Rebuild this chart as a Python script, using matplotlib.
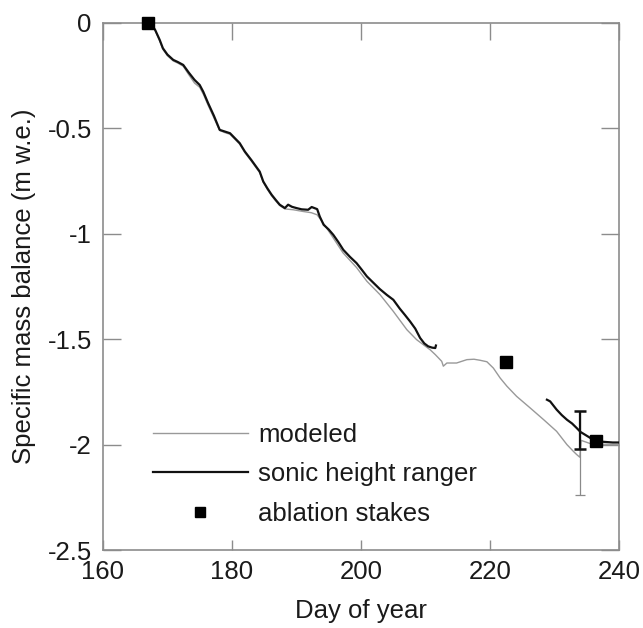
import matplotlib
matplotlib.use("Agg")
import matplotlib.pyplot as plt

plt.rcParams['font.family'] = ['Liberation Sans', 'DejaVu Sans']

# ---- data ----
sonic1_day = [167.0, 167.6, 168.1, 168.8, 169.3, 170.0, 170.9, 171.6, 172.45, 173.3, 174.2, 175.0,
              175.55, 176.3, 177.2, 178.1, 178.9, 179.7, 180.4, 181.2, 182.0, 183.0, 184.3, 184.85,
              185.5, 186.15, 186.8, 187.4, 188.2, 188.7, 189.3, 190.0, 190.8, 191.8, 192.35, 193.2,
              193.6, 194.2, 195.0, 195.7, 196.5, 197.25, 198.3, 199.3, 200.1, 200.9, 202.0, 202.9,
              204.0, 205.0, 206.0, 206.8, 207.6, 208.4, 209.15, 209.8, 210.4, 211.0, 211.5, 211.6]
sonic1_mb = [0.0, -0.01, -0.033, -0.08, -0.12, -0.15, -0.175, -0.185, -0.199, -0.235, -0.27, -0.294,
             -0.326, -0.38, -0.44, -0.507, -0.515, -0.523, -0.545, -0.57, -0.61, -0.65, -0.705, -0.752,
             -0.785, -0.815, -0.84, -0.862, -0.878, -0.862, -0.872, -0.878, -0.884, -0.886, -0.873, -0.883,
             -0.918, -0.957, -0.98, -1.005, -1.04, -1.076, -1.11, -1.139, -1.17, -1.202, -1.235, -1.262,
             -1.29, -1.313, -1.355, -1.385, -1.416, -1.45, -1.494, -1.52, -1.534, -1.54, -1.542, -1.53]

sonic2_day = [228.8, 229.3, 230.3, 231.1, 231.9, 232.7, 233.4, 234.0, 234.7, 235.5, 236.3, 237.2,
              238.1, 239.0, 240.0]
sonic2_mb = [-1.787, -1.795, -1.834, -1.86, -1.882, -1.90, -1.921, -1.94, -1.953, -1.968, -1.984,
             -1.986, -1.988, -1.99, -1.99]

model_day = [167.0, 167.6, 168.1, 168.8, 169.3, 170.0, 170.9, 171.6, 172.45, 173.3, 174.2, 175.0,
             175.6, 176.3, 177.2, 178.1, 178.9, 179.7, 180.4, 181.2, 182.0, 183.0, 184.3, 184.85,
             185.5, 186.15, 186.8, 187.4, 188.2, 189.5, 191.0, 192.3, 193.2, 193.8, 194.5, 195.7,
             197.2, 199.3, 200.9, 202.95, 205.0, 207.1, 208.6, 210.7, 211.5, 212.5, 212.75, 213.3,
             214.8, 216.4, 217.5, 218.45, 219.5, 220.5, 221.55, 222.6, 224.1, 226.2, 228.3, 230.3,
             231.9, 232.9, 233.4, 233.9, 234.1, 235.5, 237.0, 240.0]
model_mb = [0.0, -0.012, -0.035, -0.085, -0.125, -0.155, -0.18, -0.19, -0.205, -0.245, -0.285, -0.305,
            -0.34, -0.39, -0.45, -0.51, -0.52, -0.528, -0.55, -0.575, -0.615, -0.655, -0.71, -0.755,
            -0.79, -0.82, -0.845, -0.866, -0.882, -0.886, -0.894, -0.9, -0.91, -0.935, -0.965, -1.02,
            -1.09, -1.16, -1.225, -1.289, -1.368, -1.455, -1.502, -1.55, -1.573, -1.605, -1.628, -1.613,
            -1.613, -1.597, -1.595, -1.6, -1.607, -1.637, -1.684, -1.723, -1.771, -1.826, -1.882, -1.937,
            -2.0, -2.032, -2.047, -2.06, -1.98, -1.995, -1.998, -2.0]

stake_day = [167.0, 222.5, 236.4]
stake_mb = [0.0, -1.61, -1.982]

err_day = 234.0
err_sonic_center = -1.93
err_sonic = 0.09
err_model_center = -2.04
err_model = 0.2

xticks = [160, 180, 200, 220, 240]
yticks = [0, -0.5, -1, -1.5, -2, -2.5]
yticklabels = ['0', '-0.5', '-1', '-1.5', '-2', '-2.5']

# ---- figure ----
fig = plt.figure(figsize=(6.43, 6.28), dpi=100)
ax = fig.add_axes([0.160, 0.1242, 0.803, 0.8392])

grey_line = '#999999'
ax.plot(model_day, model_mb, color=grey_line, lw=1.0, label='modeled', zorder=2)
ax.plot(sonic1_day, sonic1_mb, color='#111111', lw=1.6, label='sonic height ranger', zorder=3)
ax.plot(sonic2_day, sonic2_mb, color='#111111', lw=1.6, zorder=3)

ax.errorbar([err_day], [err_model_center], yerr=[err_model], fmt='none', ecolor='#8a8a8a',
            elinewidth=0.9, capsize=3.5, capthick=0.9, zorder=2)
ax.errorbar([err_day], [err_sonic_center], yerr=[err_sonic], fmt='none', ecolor='#111111',
            elinewidth=1.6, capsize=4.5, capthick=1.8, zorder=4)

ax.plot(stake_day, stake_mb, linestyle='none', marker='s', markersize=8.5, color='black',
        label='ablation stakes', clip_on=False, zorder=5)

ax.set_xlim(160, 240)
ax.set_ylim(-2.5, 0)
ax.set_xticks(xticks)
ax.set_xticklabels([str(t) for t in xticks])
ax.set_yticks(yticks)
ax.set_yticklabels(yticklabels)

fs = 18.5
spine_col = '#8c8c8c'
for s in ax.spines.values():
    s.set_color(spine_col)
    s.set_linewidth(1.2)

ax.tick_params(axis='both', which='major', direction='in', top=True, right=True,
               color=spine_col, width=1.0, labelsize=fs, labelcolor='#1a1a1a')
ax.tick_params(axis='y', length=13, pad=8)
ax.tick_params(axis='x', length=12, pad=7)
for t in ax.xaxis.get_major_ticks():
    t.tick1line.set_markersize(7.5)
    t.tick2line.set_markersize(12)

ax.set_xlabel('Day of year', fontsize=fs, color='#1a1a1a', labelpad=11)
ax.set_ylabel('Specific mass balance (m w.e.)', fontsize=fs, color='#1a1a1a', labelpad=8)

leg = ax.legend(loc='upper left', bbox_to_anchor=(0.097, 0.241), frameon=False, fontsize=fs,
                handlelength=3.7, handletextpad=0.4, labelspacing=0.6, borderpad=0,
                borderaxespad=0, markerscale=0.8)
for txt in leg.get_texts():
    txt.set_color('#1a1a1a')

fig.savefig('out.png', dpi=100)
